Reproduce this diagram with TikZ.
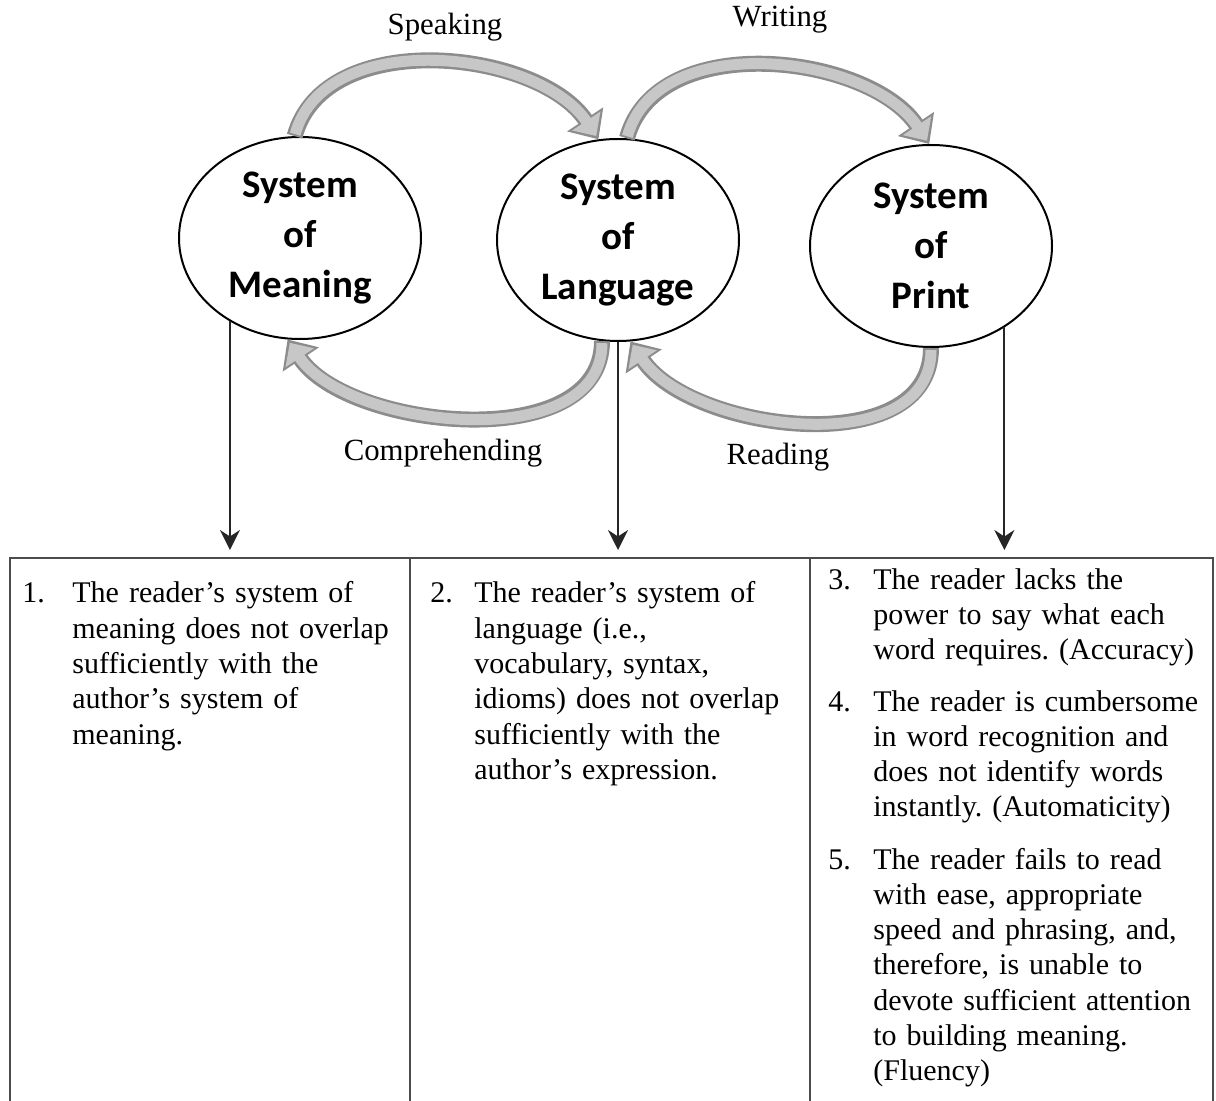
\documentclass[tikz,border=0pt]{standalone}
\usepackage{fontspec}
\setmainfont{Liberation Serif}
\newfontfamily\circfont{Carlito}
\usetikzlibrary{shapes.geometric,arrows.meta}
\frenchspacing

\tikzset{
  sysnode/.style={ellipse, draw, line width=1pt, minimum width=121pt, minimum height=101pt, inner sep=0pt, align=center, font=\circfont\bfseries\fontsize{19.5}{25}\selectfont},
  flowlabel/.style={inner sep=0pt, font=\fontsize{15.4}{17.6}\selectfont},
  bandout/.style={draw=black!45, line width=8pt, -{Triangle[width=21pt,length=12pt]}},
  bandin/.style={draw=black!22, line width=5.5pt, shorten <=1pt, shorten >=2pt, -{Triangle[width=16.5pt,length=9pt]}},
  droparrow/.style={draw=black!85, line width=0.9pt, -{Stealth[length=10pt,width=10pt]}},
  numcell/.style={anchor=base west, inner sep=0pt, font=\fontsize{15}{17.65}\selectfont},
  cell/.style={anchor=base west, align=left, inner sep=0pt, text width=175pt, font=\fontsize{15}{17.65}\selectfont},
  rule/.style={draw=black!70, line width=0.6pt}
}

\begin{document}
\begin{tikzpicture}[x=0.5pt,y=-0.5pt]
  \useasboundingbox (0,0) rectangle (1216,1101);

  % the three systems
  \node[sysnode] (meaning) at (300,238) {System\\of\\Meaning};
  \node[sysnode] (language) at (618,240) {System\\of\\Language};
  \node[sysnode] (print) at (931,246) {System\\of\\Print};

  % curved block arrows
  \foreach \band in {bandout,bandin} {
    \draw[\band] (meaning.93) .. controls +(30,-110) and +(-60,-90) .. (language.101);
    \draw[\band] (language.85) .. controls +(30,-110) and +(-60,-90) .. (print.91);
    \draw[\band] (language.261) .. controls +(0,115) and +(60,90) .. (meaning.263);
    \draw[\band] (print.270) .. controls +(0,115) and +(60,90) .. (language.277);
  }

  \node[flowlabel] (speaking) at (445,27) {Speaking};
  \node[flowlabel] (writing) at (780,20) {Writing};
  \node[flowlabel] (comprehending) at (443,453) {Comprehending};
  \node[flowlabel] (reading) at (778,457) {Reading};

  % drops into the table
  \coordinate (droplevel) at (0,550);
  \draw[droparrow] (meaning.230) -- (meaning.230 |- droplevel);
  \draw[droparrow] (language.south) -- (language.south |- droplevel);
  \draw[droparrow] (print.312) -- (print.312 |- droplevel);

  % table
  \draw[rule] (10,1101) -- (10,558) -- (1213,558) -- (1213,1101);
  \draw[rule] (410,558) -- (410,1101);
  \draw[rule] (810,558) -- (810,1101);

  \node[numcell] (num1) at (22,603) {1.};
  \node[cell] (item1) at (72,603) {The reader’s system of\\ meaning does not overlap\\ sufficiently with the\\ author’s system of\\ meaning.};
  \node[numcell] (num2) at (430,603) {2.};
  \node[cell] (item2) at (474,603) {The reader’s system of\\ language (i.e.,\\ vocabulary, syntax,\\ idioms) does not overlap\\ sufficiently with the\\ author’s expression.};
  \node[numcell] (num3) at (828,589) {3.};
  \node[cell] (item3) at (873,589) {The reader lacks the\\ power to say what each\\ word requires. (Accuracy)};
  \node[numcell] (num4) at (828,711) {4.};
  \node[cell] (item4) at (873,711) {The reader is cumbersome\\ in word recognition and\\ does not identify words\\ instantly. (Automaticity)};
  \node[numcell] (num5) at (828,869) {5.};
  \node[cell] (item5) at (873,869) {The reader fails to read\\ with ease, appropriate\\ speed and phrasing, and,\\ therefore, is unable to\\ devote sufficient attention\\ to building meaning.\\ (Fluency)};
\end{tikzpicture}
\end{document}
